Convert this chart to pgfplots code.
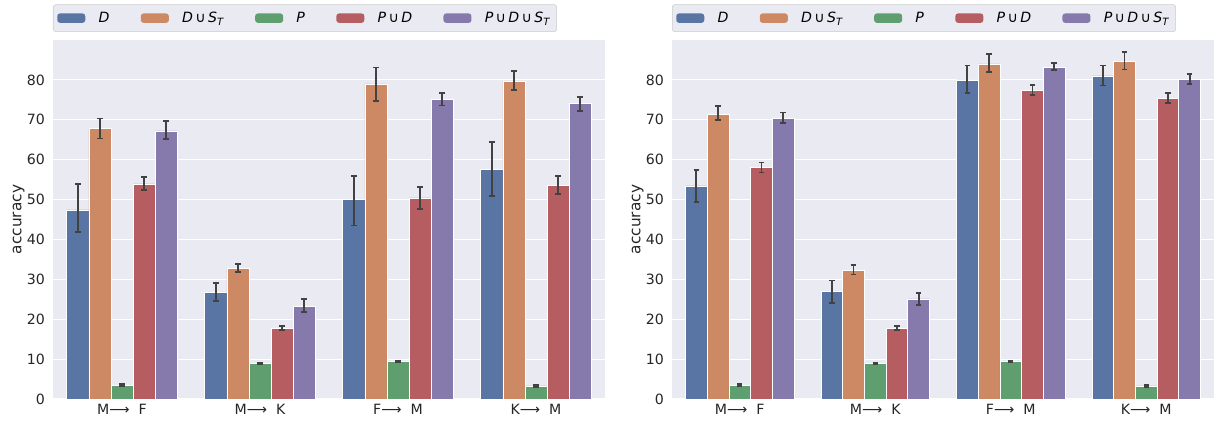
\documentclass[border=0pt]{standalone}
\usepackage{fontspec}
\setmainfont{DejaVu Sans}
\usepackage{pgfplots}
\usepackage{pgfplotstable}
\pgfplotsset{compat=1.18}
\definecolor{cD}{HTML}{5975A4}
\definecolor{cDS}{HTML}{CC8963}
\definecolor{cP}{HTML}{5F9E6E}
\definecolor{cPD}{HTML}{B55D60}
\definecolor{cPDS}{HTML}{857AAB}
\definecolor{bg}{HTML}{EAEAF2}
\definecolor{errc}{HTML}{424242}
\definecolor{legbd}{HTML}{CCCCCC}
\newcommand\fs{\fontsize{10.6}{12.5}\selectfont}
\newcommand\fl{\fontsize{11.5}{13.5}\selectfont}
\newcommand\sub[1]{\raisebox{-0.35ex}{\fontsize{7.5}{8}\selectfont\textit{#1}}}
\newcommand\cupp{\,∪\,}

\pgfplotstableread{
x D Dp Dm DS DSp DSm P Pp Pm PD PDp PDm PDS PDSp PDSm
0 47.4 6.5 5.6 67.8 2.5 2.5 3.5 0.2 0.2 53.9 1.8 1.5 67.2 2.5 2.1
1 26.7 2.4 2.1 32.7 1.2 0.9 8.9 0.15 0.15 17.7 0.6 0.5 23.3 1.7 1.4
2 50.0 6.0 6.5 79.0 4.1 4.2 9.5 0.15 0.15 50.4 2.8 2.7 75.2 1.6 1.6
3 57.6 6.9 6.7 79.7 2.6 2.3 3.3 0.2 0.2 53.5 2.5 2.1 74.0 1.8 1.8
}\lefttab

\pgfplotstableread{
x D Dp Dm DS DSp DSm P Pp Pm PD PDp PDm PDS PDSp PDSm
0 53.4 4.0 4.1 71.4 2.0 1.5 3.5 0.2 0.2 58.0 1.3 1.2 70.3 1.5 1.1
1 26.9 2.8 2.8 32.3 1.2 1.1 8.9 0.15 0.15 17.6 0.7 0.4 25.1 1.5 1.6
2 80.0 3.6 3.3 84.0 2.5 2.1 9.5 0.15 0.15 77.4 1.4 1.1 83.2 1.1 0.8
3 81.0 2.6 2.4 84.7 2.3 2.1 3.3 0.2 0.2 75.4 1.4 1.2 80.1 1.4 1.1
}\righttab

\pgfplotsset{
  mybars/.style={
    scale only axis, height=269.25pt,
    ybar, bar width=0.16,
    xmin=-0.5, xmax=3.5, ymin=0, ymax=90,
    xtick={0,1,2,3},
    xticklabels={M⟶\ \ F, M⟶\ \ K, F⟶\ \ M, K⟶\ \ M},
    ytick={0,10,...,80},
    axis background/.style={fill=bg},
    axis line style={draw=none},
    major tick length=0pt,
    ymajorgrids, major grid style={white, line width=0.8pt},
    tick label style={font=\fs, text=black!85},
    yticklabel style={xshift=-2.5pt},
    ylabel={accuracy}, ylabel style={font=\fl, text=black!85, yshift=-5pt},
    /pgf/number format/assume math mode=true,
    error bars/y dir=both, error bars/y explicit,
    error bars/error bar style={errc, line width=1.35pt},
    error bars/error mark options={errc, line width=1.35pt, mark size=2pt, rotate=90},
    every axis plot/.append style={draw=white, line width=0.5pt},
    legend columns=5,
    legend style={at={(0,1)}, anchor=south west, yshift=6pt,
      fill=bg, draw=legbd, rounded corners=2pt, font=\fs,
      inner xsep=3pt, inner ysep=3.5pt,
      /tikz/every odd column/.append style={column sep=8pt},
      /tikz/every even column/.append style={column sep=21.5pt}},
    legend image code/.code={\fill[##1, draw=none] (0pt,-3.5pt) rectangle (21pt,3.5pt);},
  }
}

\begin{document}
\begin{tikzpicture}
\useasboundingbox (0,0) rectangle (911.25pt,315.75pt);
\begin{axis}[mybars, width=414pt, at={(39.75pt,16.5pt)}, anchor=south west]
\addplot[fill=cD, bar shift=-0.32] table[x=x,y=D,y error plus=Dp,y error minus=Dm]{\lefttab};
\addplot[fill=cDS, bar shift=-0.16] table[x=x,y=DS,y error plus=DSp,y error minus=DSm]{\lefttab};
\addplot[fill=cP, bar shift=0] table[x=x,y=P,y error plus=Pp,y error minus=Pm]{\lefttab};
\addplot[fill=cPD, bar shift=0.16] table[x=x,y=PD,y error plus=PDp,y error minus=PDm]{\lefttab};
\addplot[fill=cPDS, bar shift=0.32] table[x=x,y=PDS,y error plus=PDSp,y error minus=PDSm]{\lefttab};
\legend{\textit{D}, \textit{D}\cupp\textit{S}\sub{T}, \textit{P}, \textit{P}\cupp\textit{D}, \textit{P}\cupp\textit{D}\cupp\textit{S}\sub{T}}
\end{axis}
\begin{axis}[mybars, width=406.5pt, at={(504pt,16.5pt)}, anchor=south west]
\addplot[fill=cD, bar shift=-0.32] table[x=x,y=D,y error plus=Dp,y error minus=Dm]{\righttab};
\addplot[fill=cDS, bar shift=-0.16] table[x=x,y=DS,y error plus=DSp,y error minus=DSm]{\righttab};
\addplot[fill=cP, bar shift=0] table[x=x,y=P,y error plus=Pp,y error minus=Pm]{\righttab};
\addplot[fill=cPD, bar shift=0.16] table[x=x,y=PD,y error plus=PDp,y error minus=PDm]{\righttab};
\addplot[fill=cPDS, bar shift=0.32] table[x=x,y=PDS,y error plus=PDSp,y error minus=PDSm]{\righttab};
\legend{\textit{D}, \textit{D}\cupp\textit{S}\sub{T}, \textit{P}, \textit{P}\cupp\textit{D}, \textit{P}\cupp\textit{D}\cupp\textit{S}\sub{T}}
\end{axis}
\end{tikzpicture}
\end{document}
